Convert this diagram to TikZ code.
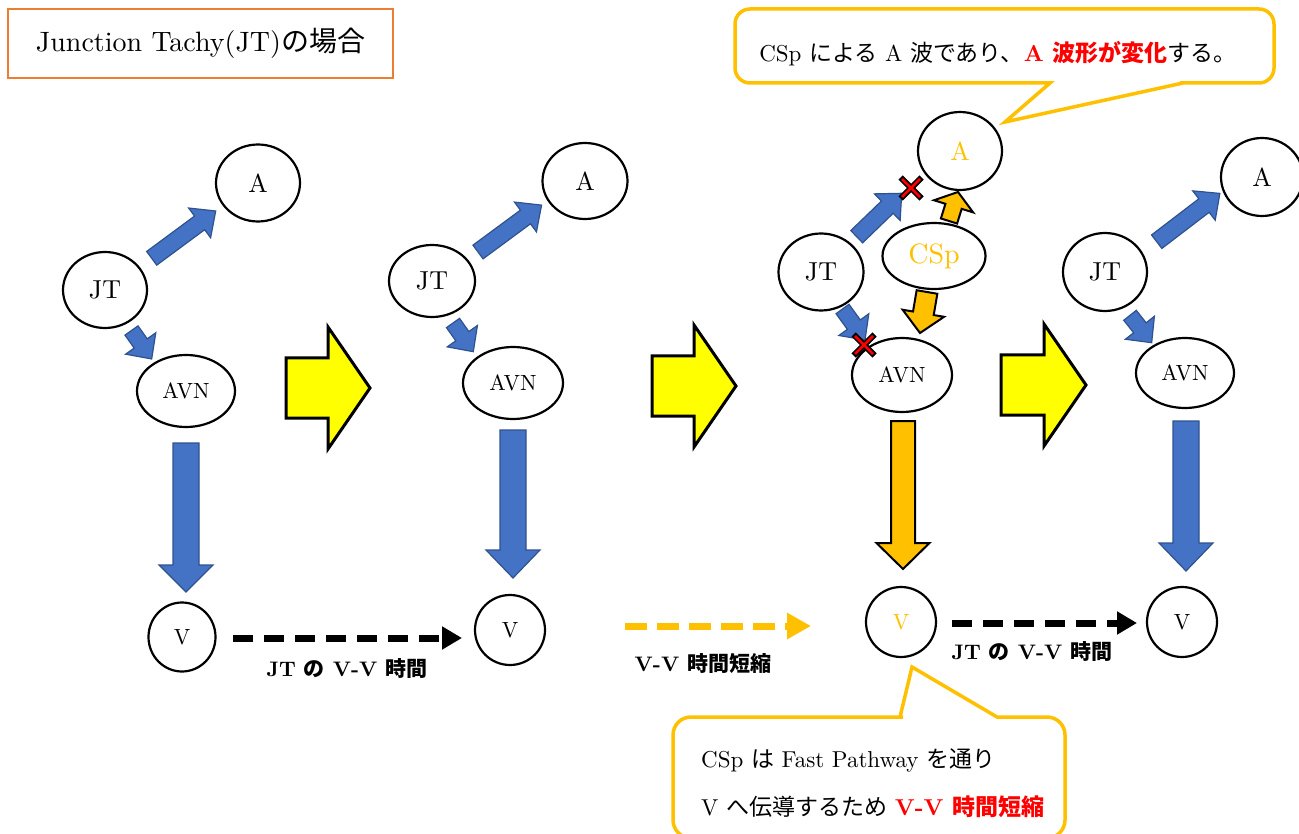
\documentclass[tikz,border=0pt]{standalone}
\usepackage{fontspec}
\setmainfont{lmroman10-regular.otf}[BoldFont=lmroman10-bold.otf]
\newfontfamily\cjk{Noto Sans CJK JP}
\usetikzlibrary{shapes.geometric,arrows.meta}
\definecolor{blueA}{HTML}{4472C4}
\definecolor{blueB}{HTML}{2F528F}
\definecolor{gold}{HTML}{FFC000}
\definecolor{orng}{HTML}{ED7D31}
\definecolor{yel}{HTML}{FFFF00}
\newcommand\J[1]{{\cjk #1}}
\newcommand\fs[1]{\fontsize{#1}{#1}\selectfont}
% block arrow: tail (#1,#2), tip (#3,#4), shaft width #5, head width #6, head length #7, style #8
\newcommand\blk[8]{%
  \pgfmathsetmacro\bdx{#3-#1}%
  \pgfmathsetmacro\bdy{#4-#2}%
  \pgfmathsetmacro\blen{veclen(\bdx,\bdy)}%
  \pgfmathsetmacro\bang{-atan2(\bdy,\bdx)}%
  \pgfmathsetmacro\bbase{\blen-#7}%
  \draw[#8,shift={(#1,#2)},rotate=\bang] (0,-#5/2) -- (\bbase,-#5/2) -- (\bbase,-#6/2) -- (\blen,0) -- (\bbase,#6/2) -- (\bbase,#5/2) -- (0,#5/2) -- cycle;}
\newcommand\xm[2]{%
  \draw[line width=6pt] (#1-10.5,#2-10.5) -- (#1+10.5,#2+10.5) (#1-10.5,#2+10.5) -- (#1+10.5,#2-10.5);
  \draw[red,line width=2.6pt] (#1-9,#2-9) -- (#1+9,#2+9) (#1-9,#2+9) -- (#1+9,#2-9);}
\begin{document}
\begin{tikzpicture}[x=1pt,y=-1pt,
  ell/.style={draw,line width=2.2pt,ellipse,inner sep=0pt,fill=white,font=\fs{26}},
  bluearr/.style={fill=blueA,draw=blueB,line width=1.2pt,line join=miter},
  yelarr/.style={fill=yel,draw=black,line width=3pt,line join=miter},
  goldarr/.style={fill=gold,draw=black,line width=2pt,line join=miter},
  dashblk/.style={line width=7pt,dash pattern=on 20pt off 11pt,-{Triangle[length=20pt,width=22pt]}},
  dashgold/.style={gold,line width=7pt,dash pattern=on 22pt off 10pt,-{Triangle[length=24pt,width=25pt]}},
  callout/.style={draw=gold,line width=3.5pt,fill=white},
  lbl/.style={font=\fs{21}\bfseries,inner sep=0pt},
  ctext/.style={font=\fs{23},inner sep=0pt}]
\useasboundingbox (0,0) rectangle (1299,834);
\clip (0,0) rectangle (1299,834);

% title
\node[draw=orng,line width=2.2pt,minimum width=385pt,minimum height=69pt,inner sep=0pt,font=\fs{28}] (title) at (200.5,43.5) {Junction Tachy(JT)\J{の場合}};

% callouts
\draw[callout,rounded corners=15pt] (900,9) -- (1274,9) -- (1274,83) -- (1195,83) [sharp corners] -- (1183,83) -- (1005,122) -- (1050,83) -- (1040,83) [rounded corners=15pt] -- (735,83) -- (735,9) -- cycle;
\node[ctext] (t1) at (998,54) {CSp \J{による} A \J{波であり、}{\color{red}\bfseries A \J{波形が変化}}\J{する。}};
\draw[callout,rounded corners=18pt] (673,780) -- (673,717) -- (885,717) [sharp corners] -- (900,717) -- (912,667) -- (997,717) -- (1010,717) [rounded corners=18pt] -- (1065,717) -- (1065,838) -- (673,838) -- cycle;
\node[ctext,anchor=west] (b1) at (701,760) {CSp \J{は} Fast Pathway \J{を通り}};
\node[ctext,anchor=west] (b2) at (701,807) {V \J{へ伝導するため}\ {\color{red}\bfseries V-V \J{時間短縮}}};

% column 1
\node[ell,minimum width=84pt,minimum height=77pt] (a1) at (258,183) {A};
\node[ell,minimum width=84pt,minimum height=76pt] (jt1) at (105,290) {JT};
\node[ell,font=\fs{22},minimum width=98pt,minimum height=72pt] (avn1) at (186,391) {AVN};
\node[ell,font=\fs{22},minimum width=67pt,minimum height=69pt] (v1) at (182,637) {V};
\blk{151.7}{258.3}{215.7}{211}{17}{37}{20}{bluearr}
\blk{131.5}{330.5}{151.7}{359}{16}{37}{19}{bluearr}
\blk{186}{443}{186}{592}{26}{54}{27}{bluearr}

% column 2
\node[ell,minimum width=85pt,minimum height=76pt] (a2) at (585,181) {A};
\node[ell,minimum width=86pt,minimum height=72pt] (jt2) at (432,281) {JT};
\node[ell,font=\fs{22},minimum width=100pt,minimum height=72pt] (avn2) at (513,383) {AVN};
\node[ell,font=\fs{22},minimum width=70pt,minimum height=70pt] (v2) at (510,630) {V};
\blk{478}{252}{541.7}{205}{17}{37}{20}{bluearr}
\blk{453}{323}{473.3}{351.7}{16}{37}{19}{bluearr}
\blk{513}{430}{513}{578}{26}{54}{28}{bluearr}

% column 3
\node[ell,text=gold,minimum width=84pt,minimum height=78pt] (a3) at (960,151) {A};
\node[ell,text=gold,font=\fs{28},minimum width=103pt,minimum height=66pt] (csp) at (934,256) {CSp};
\node[ell,minimum width=85pt,minimum height=77pt] (jt3) at (821,272) {JT};
\node[ell,font=\fs{22},minimum width=100pt,minimum height=74pt] (avn3) at (902,375) {AVN};
\node[ell,font=\fs{22},text=gold,minimum width=70pt,minimum height=70pt] (v3) at (901,622) {V};
\blk{856.7}{236.7}{901.7}{193.3}{17}{37}{20}{bluearr}
\blk{842.5}{309}{865}{340}{16}{37}{19}{bluearr}
\blk{949}{221}{958}{192}{17}{41}{15}{goldarr}
\blk{927}{292}{920}{333}{21}{42}{20}{goldarr}
\blk{903}{421}{903}{569}{24}{53}{26}{goldarr}
\xm{911}{188}
\xm{864}{345}

% column 4
\node[ell,minimum width=82pt,minimum height=78pt] (a4) at (1262,177) {A};
\node[ell,minimum width=84pt,minimum height=78pt] (jt4) at (1105,272) {JT};
\node[ell,font=\fs{22},minimum width=98pt,minimum height=70pt] (avn4) at (1185,373) {AVN};
\node[ell,font=\fs{22},minimum width=70pt,minimum height=70pt] (v4) at (1182,622) {V};
\blk{1156.7}{241.7}{1220}{193.3}{17}{37}{20}{bluearr}
\blk{1130}{315.3}{1151.7}{342.7}{16}{37}{19}{bluearr}
\blk{1186}{421}{1186}{571}{26}{54}{28}{bluearr}

% big yellow arrows
\blk{286}{388}{370}{388}{60}{122}{42}{yelarr}
\blk{652}{386}{736}{386}{60}{122}{42}{yelarr}
\blk{1001}{385}{1086}{385}{60}{122}{42}{yelarr}

% dashed arrows
\coordinate (d1s) at (233,638);
\coordinate (d1e) at (462,638);
\draw[dashblk] (d1s) -- (d1e);
\coordinate (d2s) at (625,626);
\coordinate (d2e) at (811,626);
\draw[dashgold] (d2s) -- (d2e);
\coordinate (d3s) at (952,623);
\coordinate (d3e) at (1137,623);
\draw[dashblk] (d3s) -- (d3e);

% labels
\node[lbl] (l1) at (347,669) {JT \J{の} V-V \J{時間}};
\node[lbl] (l2) at (703,664) {V-V \J{時間短縮}};
\node[lbl] (l3) at (1032,652) {JT \J{の} V-V \J{時間}};
\end{tikzpicture}
\end{document}
